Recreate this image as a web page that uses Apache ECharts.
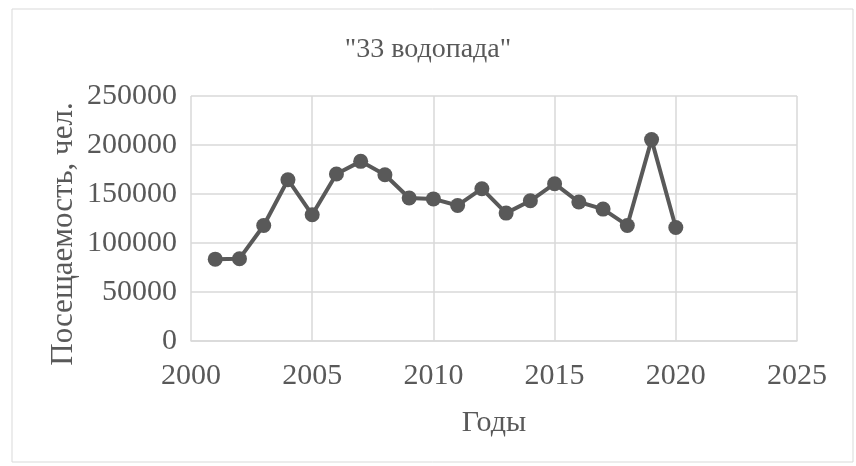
<!DOCTYPE html>
<html lang="ru">
<head>
    <meta charset="UTF-8">
    <title>33 водопада</title>
    <script src="https://cdn.jsdelivr.net/npm/echarts@6/dist/echarts.min.js"></script>
    <style>
        html, body { margin: 0; padding: 0; background: #fff; }
        #chart { width: 856px; height: 466px; }
    </style>
</head>
<body>
    <div id="chart"></div>
    <script>
        // годы и посещаемость
        var years = [2001, 2002, 2003, 2004, 2005, 2006, 2007, 2008, 2009, 2010,
                     2011, 2012, 2013, 2014, 2015, 2016, 2017, 2018, 2019, 2020]
        var visitors = [83500, 84000, 117900, 164600, 128800, 170400, 183300, 169700, 145900, 145000,
                        138300, 155400, 130500, 143100, 160500, 141800, 134600, 117900, 205500, 115800]
        var xTicks = [2000, 2005, 2010, 2015, 2020, 2025]
        var yTicks = [0, 50000, 100000, 150000, 200000, 250000]

        var points = years.map(function (y, i) { return [y, visitors[i]] })
        var font = 'Liberation Serif'
        var grey = '#595959'

        var myChart = echarts.init(document.getElementById('chart'))
        var option = {
            animation: false,
            backgroundColor: '#fff',
            title: {
                text: '"33 водопада"',
                left: 'center',
                top: 31,
                textStyle: { fontFamily: font, fontSize: 28, fontWeight: 'normal', color: grey }
            },
            graphic: [
                // рамка вокруг диаграммы
                {
                    type: 'rect',
                    shape: { x: 12, y: 9, width: 841, height: 453 },
                    style: { fill: 'none', stroke: '#d9d9d9', lineWidth: 1 },
                    silent: true
                },
                // подпись оси Y (в оригинале немного ниже центра)
                {
                    type: 'text',
                    x: 64,
                    y: 234,
                    rotation: Math.PI / 2,
                    style: {
                        text: 'Посещаемость, чел.',
                        fontFamily: font,
                        fontSize: 31,
                        fill: grey,
                        align: 'center',
                        verticalAlign: 'middle'
                    },
                    silent: true
                }
            ],
            grid: { left: 191, right: 59, top: 96, bottom: 125 },
            xAxis: {
                type: 'value',
                min: xTicks[0],
                max: xTicks[xTicks.length - 1],
                interval: 5,
                name: 'Годы',
                nameLocation: 'middle',
                nameGap: 67,
                nameTextStyle: { fontFamily: font, fontSize: 30, color: grey },
                axisLine: { lineStyle: { color: '#d9d9d9', width: 1.5 } },
                axisTick: { show: false },
                splitLine: { show: true, lineStyle: { color: '#d9d9d9', width: 1.5 } },
                axisLabel: { fontFamily: font, fontSize: 30, color: grey, margin: 20,
                             formatter: function (v) { return String(v) } }
            },
            yAxis: {
                type: 'value',
                min: yTicks[0],
                max: yTicks[yTicks.length - 1],
                interval: 50000,
                axisLine: { show: false },
                axisTick: { show: false },
                splitLine: { lineStyle: { color: '#d9d9d9', width: 1.5 } },
                axisLabel: { fontFamily: font, fontSize: 30, color: grey, margin: 14,
                             formatter: function (v) { return String(v) } }
            },
            series: [{
                type: 'line',
                data: points,
                symbol: 'circle',
                symbolSize: 15,
                lineStyle: { color: grey, width: 4 },
                itemStyle: { color: grey }
            }]
        }
        myChart.setOption(option)
    </script>
</body>
</html>
